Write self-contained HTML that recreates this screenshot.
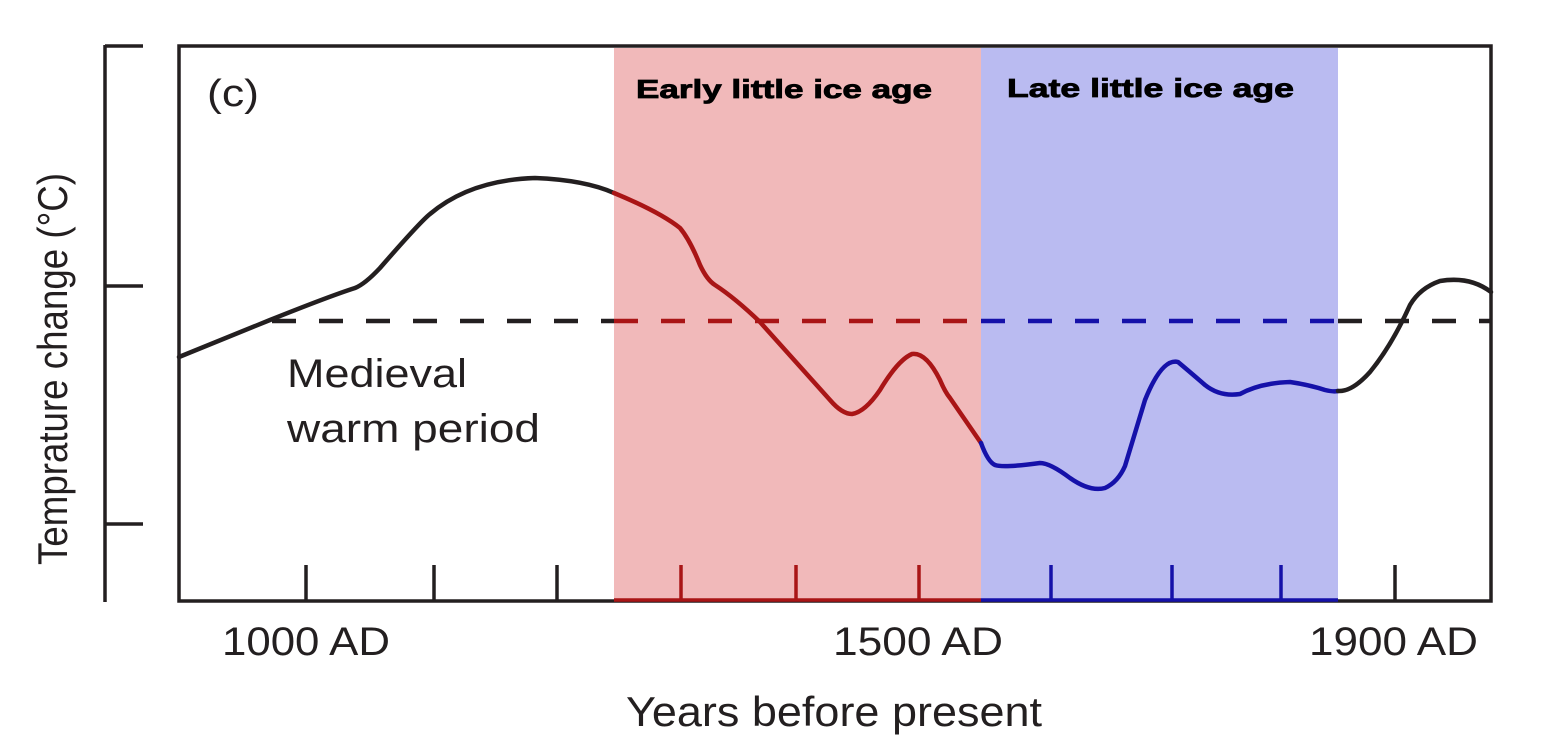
<!DOCTYPE html>
<html><head><meta charset="utf-8"><style>
html,body{margin:0;padding:0;background:#fff;}
svg{display:block;}
text{font-family:"Liberation Sans",Arial,sans-serif;}
</style></head><body>
<svg width="1559" height="747" viewBox="0 0 1559 747" xmlns="http://www.w3.org/2000/svg">
<rect x="614" y="48" width="367" height="552" fill="#f1b9ba"/>
<rect x="981" y="48" width="357" height="552" fill="#babbf1"/>
<g stroke="#231f20" stroke-width="3.5" fill="none">
<line x1="105" y1="45" x2="105" y2="602"/>
<line x1="105" y1="46" x2="143" y2="46"/>
<line x1="105" y1="286" x2="143" y2="286"/>
<line x1="105" y1="524" x2="143" y2="524"/>
<rect x="179" y="46" width="1312" height="555"/>
<line x1="306" y1="565" x2="306" y2="601"/>
<line x1="434" y1="565" x2="434" y2="601"/>
<line x1="557" y1="565" x2="557" y2="601"/>
<line x1="1395" y1="565" x2="1395" y2="601"/>
</g>
<g stroke="#a91516" stroke-width="3.5"><line x1="681" y1="565" x2="681" y2="601"/><line x1="796" y1="565" x2="796" y2="601"/><line x1="919" y1="565" x2="919" y2="601"/><line x1="614" y1="600" x2="981" y2="600"/></g>
<g stroke="#1511a9" stroke-width="3.5"><line x1="1051" y1="565" x2="1051" y2="601"/><line x1="1172" y1="565" x2="1172" y2="601"/><line x1="1281" y1="565" x2="1281" y2="601"/><line x1="981" y1="600" x2="1338" y2="600"/></g>
<g stroke-width="4.5" stroke-dasharray="24 23">
<line x1="272" y1="321" x2="614" y2="321" stroke="#231f20"/>
<line x1="614" y1="321" x2="981" y2="321" stroke="#a91516"/>
<line x1="981" y1="321" x2="1338" y2="321" stroke="#1511a9"/>
<line x1="1338" y1="321" x2="1491" y2="321" stroke="#231f20"/>
</g>
<g fill="none" stroke-width="4.5" stroke-linejoin="round" stroke-linecap="round">
<path stroke="#231f20" d="M179,357 L270,320 Q330,296 355,288 Q365,284 380,268 Q420,222 430,214 Q470,180 535,178 Q585,180 614,193"/>
<path stroke="#a91516" d="M614,193 Q660,212 680,228 Q690,240 700,265 Q707,280 715,285 Q735,298 760,322 L830,400 Q842,414 852,414 Q865,412 880,390 Q898,360 912,354 Q926,352 940,380 Q945,392 950,398 L981,443"/>
<path stroke="#1511a9" d="M981,443 Q988,462 995,465 Q1003,468 1040,463 Q1050,463 1070,478 Q1090,492 1105,488 Q1118,482 1125,466 L1145,400 Q1162,358 1178,362 Q1190,372 1205,385 Q1220,397 1240,394 Q1260,383 1290,382 Q1310,385 1325,390 Q1333,392 1338,391"/>
<path stroke="#231f20" d="M1338,391 Q1352,392 1370,372 Q1392,345 1410,305 Q1420,288 1440,281 Q1470,276 1491,292"/>
</g>
<text x="207" y="106" font-size="38" fill="#231f20" textLength="52" lengthAdjust="spacingAndGlyphs">(c)</text>
<text x="636" y="98" font-size="26" font-weight="bold" fill="#000" stroke="#000" stroke-width="0.8" textLength="296" lengthAdjust="spacingAndGlyphs">Early little ice age</text>
<text x="1007" y="97" font-size="26" font-weight="bold" fill="#000" stroke="#000" stroke-width="0.8" textLength="287" lengthAdjust="spacingAndGlyphs">Late little ice age</text>
<text x="287" y="387" font-size="40" fill="#231f20" textLength="180" lengthAdjust="spacingAndGlyphs">Medieval</text>
<text x="287" y="442" font-size="40" fill="#231f20" textLength="253" lengthAdjust="spacingAndGlyphs">warm period</text>
<text x="222" y="655" font-size="40" fill="#231f20" textLength="168" lengthAdjust="spacingAndGlyphs">1000 AD</text>
<text x="833" y="655" font-size="40" fill="#231f20" textLength="170" lengthAdjust="spacingAndGlyphs">1500 AD</text>
<text x="1309" y="655" font-size="40" fill="#231f20" textLength="169" lengthAdjust="spacingAndGlyphs">1900 AD</text>
<text x="626" y="726" font-size="42" fill="#231f20" textLength="416" lengthAdjust="spacingAndGlyphs">Years before present</text>
<text transform="translate(67,565) rotate(-90)" font-size="42" fill="#231f20" textLength="392" lengthAdjust="spacingAndGlyphs">Temprature change (°C)</text>
</svg>
</body></html>
